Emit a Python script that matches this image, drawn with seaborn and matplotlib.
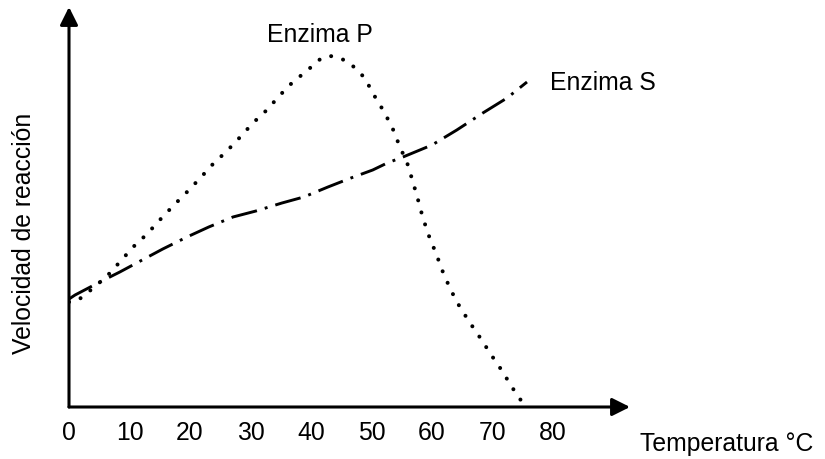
import seaborn as sns
from matplotlib import pyplot as plt
import pandas as pd

# Enzima P (dotted): temperature vs reaction velocity (arbitrary units)
temp_p = [0, 1.3, 2.6, 4.0, 6.3, 8.4, 10.6, 12.9, 15.0, 17.2, 19.5, 21.7,
          23.8, 26.1, 28.3, 30.4, 32.7, 34.9, 37.0, 39.5, 40.7, 42.0, 43.6,
          45.1, 46.4, 47.6, 48.9, 50.2, 51.9, 53.4, 54.7, 55.9, 56.9, 57.7,
          58.5, 59.5, 60.7, 61.8, 63.1, 64.6, 66.3, 68.1, 69.8, 71.6, 73.2, 75.0]
vel_p = [105, 106, 112, 119, 131, 145, 160, 173, 187, 201, 215, 229,
         243, 256, 270, 284, 297, 312, 325, 337, 344, 350, 351,
         348, 344, 337, 329, 314, 297, 280, 260, 244, 224, 207,
         189, 171, 153, 135, 117, 100, 84, 68, 52, 36, 20, 4]

# Enzima S (dash-dot)
temp_s = [0, 1.0, 5.1, 8.4, 12.1, 15.5, 19.5, 23.1, 27.1, 30.9, 35.2, 38.8,
          42.8, 46.6, 50.2, 52.6, 55.2, 60.0, 64.1, 68.4, 72.4, 75.7]
vel_s = [108, 112, 125, 135, 147, 158, 170, 180, 190, 196, 204, 210,
         220, 229, 237, 244, 250, 262, 277, 294, 309, 325]

xticks = [0, 10, 20, 30, 40, 50, 60, 70, 80]

df_p = pd.DataFrame({"Temperatura": temp_p, "Velocidad": vel_p})
df_s = pd.DataFrame({"Temperatura": temp_s, "Velocidad": vel_s})

sns.set_style("white")
plt.rcParams['font.family'] = ['Liberation Sans', 'DejaVu Sans']
plt.rcParams['text.color'] = 'black'
plt.rcParams['xtick.color'] = 'black'
fs = 17.8

fig = plt.figure(figsize=(8.25, 4.59), dpi=100)
ax = fig.add_axes([69/825, 52/459, 561/825, 400/459])

sns.lineplot(data=df_p, x="Temperatura", y="Velocidad", ax=ax, color="black",
             estimator=None, lw=2.9, linestyle=(0, (0.01, 3.1)),
             dash_capstyle='round')
sns.lineplot(data=df_s, x="Temperatura", y="Velocidad", ax=ax, color="black",
             estimator=None, lw=2.1, linestyle=(0, (9, 2.8, 1.0, 2.8)))

ax.set_xlim(0, 561/6.05)
ax.set_ylim(0, 400)
for s in ax.spines.values():
    s.set_visible(False)
ax.set_xlabel("")
ax.set_ylabel("")
ax.set_yticks([])
ax.set_xticks(xticks, [str(t) for t in xticks])
ax.tick_params(axis='x', length=0, pad=10, labelsize=fs, labelcolor='black')

# axis arrows
arr = dict(arrowstyle='-|>', lw=2.2, color='black', mutation_scale=27,
           shrinkA=0, shrinkB=0)
ax.annotate('', xy=(1, 0), xytext=(0, 0), xycoords='axes fraction',
            arrowprops=arr, annotation_clip=False)
ax.annotate('', xy=(0, 1), xytext=(0, 0), xycoords='axes fraction',
            arrowprops=arr, annotation_clip=False)

ax.text(41.5, 372, "Enzima P", fontsize=fs, ha='center', va='center')
ax.text(79.5, 324, "Enzima S", fontsize=fs, ha='left', va='center')

fig.text(24/825, 1 - 233/459, "Velocidad de reacción", fontsize=fs,
         rotation=90, ha='center', va='center')
fig.text(640/825, 1 - 444/459, "Temperatura °C", fontsize=fs,
         ha='left', va='center')

fig.savefig("out.png", dpi=100)
